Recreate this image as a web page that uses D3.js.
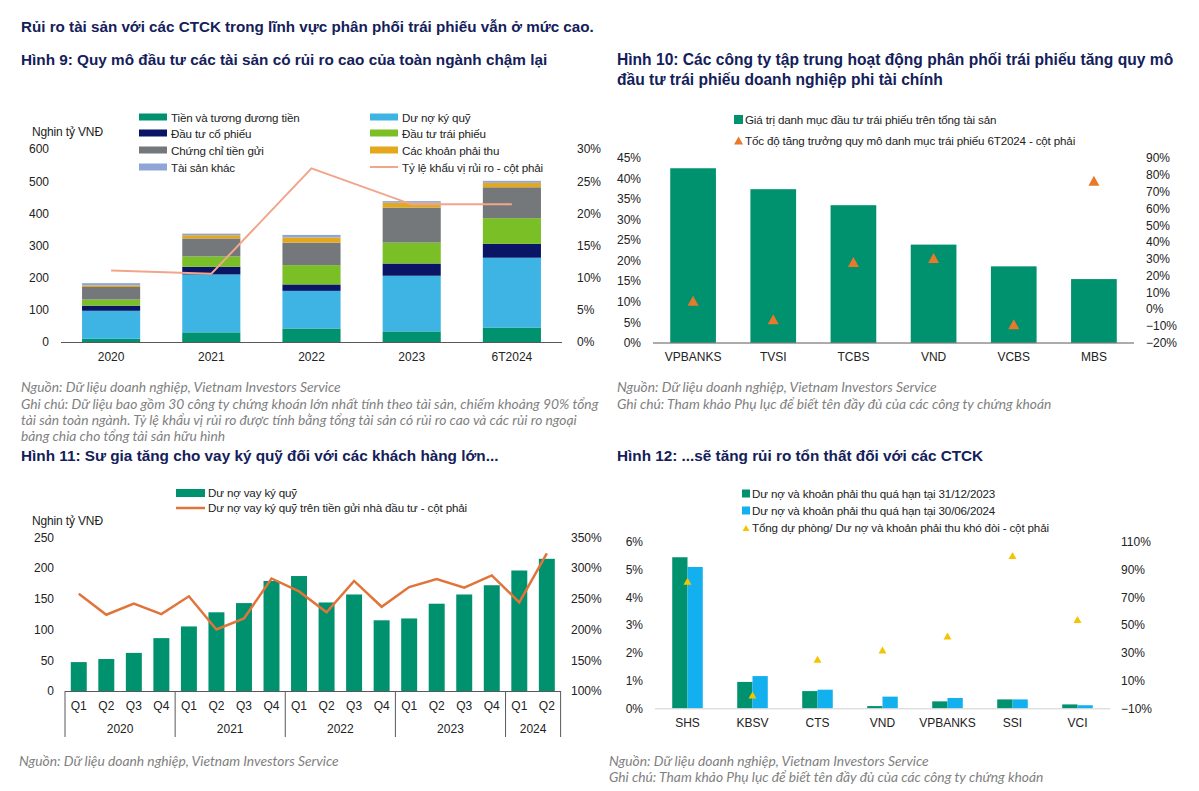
<!DOCTYPE html>
<html><head><meta charset="utf-8">
<script src="https://cdn.jsdelivr.net/npm/d3@7/dist/d3.min.js"></script>
<style>
body{margin:0;background:#fff;}
svg{display:block;}
.title{font-family:"Liberation Sans",Arial,sans-serif;font-weight:bold;fill:#14205A;}
.ax text{font-family:"Liberation Sans",Arial,sans-serif;font-size:12px;fill:#222;}
.lg{font-family:"Liberation Sans Narrow","Liberation Sans",Arial,sans-serif;font-size:11.6px;letter-spacing:-0.15px;fill:#222;}
.note{font-family:Lato,"Liberation Sans",sans-serif;font-style:italic;font-size:13.8px;fill:#7f7f7f;}
</style></head><body>
<script>
// ---------- DATA ----------
// Hình 9
const years9 = ["2020","2021","2022","2023","6T2024"];
const cash9 = [10,30,42,33,45];
const margin9 = [87,180,117,173,217];
const equity9 = [16,24,20,38,43];
const bonds9 = [19,32,60,65,80];
const cds9 = [39,56,70,109,96];
const recv9 = [5,10,16,15,14];
const other9 = [7,5,8,5,6];
const riskRatio9 = [0.111,0.106,0.270,0.214,0.214];
const series9Names = ["Tiền và tương đương tiền","Dư nợ ký quỹ","Đầu tư cổ phiếu","Đầu tư trái phiếu","Chứng chỉ tiền gửi","Các khoản phải thu","Tài sản khác"];
const line9Name = "Tỷ lệ khẩu vị rủi ro - cột phải";
const ticksL9 = [0,100,200,300,400,500,600];
const ticksR9 = [0,0.05,0.10,0.15,0.20,0.25,0.30];

// Hình 10
const firms10 = ["VPBANKS","TVSI","TCBS","VND","VCBS","MBS"];
const bondShare10 = [0.425,0.374,0.335,0.239,0.186,0.155];
const growth10 = [0.05,-0.06,0.28,0.305,-0.09,0.765];
const ticksL10 = [0,0.05,0.10,0.15,0.20,0.25,0.30,0.35,0.40,0.45];
const ticksR10 = [-0.2,-0.1,0,0.1,0.2,0.3,0.4,0.5,0.6,0.7,0.8,0.9];

// Hình 11
const quarters11 = ["Q1","Q2","Q3","Q4","Q1","Q2","Q3","Q4","Q1","Q2","Q3","Q4","Q1","Q2","Q3","Q4","Q1","Q2"];
const yearGroups11 = [["2020",4],["2021",4],["2022",4],["2023",4],["2024",2]];
const marginLoans11 = [47,52,62,86,105,128,143,179,187,144,157,115,118,142,157,172,196,215];
const loanToDeposit11 = [2.58,2.24,2.42,2.25,2.54,2.00,2.18,2.83,2.62,2.28,2.79,2.37,2.69,2.82,2.68,2.88,2.44,3.24];
const ticksL11 = [0,50,100,150,200,250];
const ticksR11 = [1.0,1.5,2.0,2.5,3.0,3.5];

// Hình 12
const firms12 = ["SHS","KBSV","CTS","VND","VPBANKS","SSI","VCI"];
const overdue2023 = [0.0544,0.0095,0.0062,0.0008,0.0025,0.0032,0.0014];
const overdue2024 = [0.0509,0.0116,0.0067,0.0042,0.0037,0.0032,0.0011];
const provision12 = [0.816,-0.004,0.253,0.32,0.42,1.00,0.54];
const ticksL12 = [0,0.01,0.02,0.03,0.04,0.05,0.06];
const ticksR12 = [-0.1,0.1,0.3,0.5,0.7,0.9,1.1];

// ---------- STYLE ----------
const C = {teal:"#00916E",lblue:"#3EB4E5",navy:"#0A1565",green:"#7BBF26",gray:"#75787B",gold:"#E3A81B",lav:"#8FA5D8",
  salmon:"#F2A58A",orange:"#E8782A",orange11:"#E0743A",blue12:"#12B0EE",yellow:"#F5C400"};
const colors9 = [C.teal,C.lblue,C.navy,C.green,C.gray,C.gold,C.lav];

const svg = d3.select("body").append("svg").attr("width",1199).attr("height",791);
const pct = d3.format(".0%");

function text(x,y,s,cls,extra){const t=svg.append("text").attr("x",x).attr("y",y).attr("class",cls).text(s);if(extra)extra(t);return t;}
function axisL(scale,ticks,x,fmt){svg.append("g").attr("class","ax").attr("transform",`translate(${x},0)`)
  .call(d3.axisLeft(scale).tickValues(ticks).tickSize(0).tickPadding(0).tickFormat(fmt)).call(g=>g.select(".domain").remove());}
function axisR(scale,ticks,x,fmt){svg.append("g").attr("class","ax").attr("transform",`translate(${x},0)`)
  .call(d3.axisRight(scale).tickValues(ticks).tickSize(0).tickPadding(0).tickFormat(fmt)).call(g=>g.select(".domain").remove());}
function axisB(scale,y,x0,x1,color){
  svg.append("line").attr("x1",x0).attr("x2",x1).attr("y1",y).attr("y2",y).attr("stroke",color).attr("stroke-width",1);
}
function tri(x,y,w,h,color){svg.append("path").attr("d",`M${x},${y-h/2}L${x+w/2},${y+h/2}L${x-w/2},${y+h/2}Z`).attr("fill",color);}

// ---------- TITLES ----------
const TS="15.3px";
text(21,32,"Rủi ro tài sản với các CTCK trong lĩnh vực phân phối trái phiếu vẫn ở mức cao.","title").style("font-size","15.2px");
text(21,65,"Hình 9: Quy mô đầu tư các tài sản có rủi ro cao của toàn ngành chậm lại","title").style("font-size",TS);
text(617,65,"Hình 10: Các công ty tập trung hoạt động phân phối trái phiếu tăng quy mô","title").style("font-size","15.6px");
text(617,85,"đầu tư trái phiếu doanh nghiệp phi tài chính","title").style("font-size","15.6px");
text(21,461,"Hình 11: Sư gia tăng cho vay ký quỹ đối với các khách hàng lớn...","title").style("font-size",TS);
text(617,461,"Hình 12: ...sẽ tăng rủi ro tổn thất đối với các CTCK","title").style("font-size",TS);

// ---------- HÌNH 9 ----------
{
  const x = d3.scaleBand().domain(years9).range([61,562]).paddingInner(0.42).paddingOuter(0.21);
  const y = d3.scaleLinear().domain([0,600]).range([342,149]);
  const yR = d3.scaleLinear().domain([0,0.30]).range([342,149]);
  const rows = years9.map((yr,i)=>({yr,v:[cash9[i],margin9[i],equity9[i],bonds9[i],cds9[i],recv9[i],other9[i]]}));
  const stack = d3.stack().keys(d3.range(7)).value((d,k)=>d.v[k])(rows);
  stack.forEach((s,k)=>{
    svg.append("g").selectAll("rect").data(s).join("rect")
      .attr("x",d=>x(d.data.yr)).attr("width",x.bandwidth())
      .attr("y",d=>y(d[1])).attr("height",d=>y(d[0])-y(d[1])).attr("fill",colors9[k]);
  });
  axisB(x,342.5,61,562,"#595959");
  svg.append("path").datum(riskRatio9).attr("fill","none").attr("stroke",C.salmon).attr("stroke-width",2)
    .attr("d",d3.line().x((d,i)=>x(years9[i])+x.bandwidth()/2).y(d=>yR(d)));
  axisL(y,ticksL9,49,d3.format("d"));
  axisR(yR,ticksR9,577,pct);
  svg.append("g").attr("class","ax").attr("transform","translate(0,352)")
    .call(d3.axisBottom(x).tickSize(0).tickPadding(0)).call(g=>g.select(".domain").remove())
    .selectAll("text").attr("dy","0.71em");
  text(32,136,"Nghin tỷ VNĐ","lg").style("font-size","12px");
  const lx=[139,370], ly=[117,133,150,167];
  const pos=[[0,0],[1,0],[0,1],[1,1],[0,2],[1,2],[0,3]];
  series9Names.forEach((n,k)=>{
    const [c,r]=pos[k];
    svg.append("rect").attr("x",lx[c]).attr("y",ly[r]-3.5).attr("width",28).attr("height",7).attr("fill",colors9[k]);
    text(lx[c]+32,ly[r]+4.5,n,"lg");
  });
  svg.append("line").attr("x1",370).attr("x2",398).attr("y1",167).attr("y2",167).attr("stroke",C.salmon).attr("stroke-width",2);
  text(402,171.5,line9Name,"lg");
  text(21,392,"Nguồn: Dữ liệu doanh nghiệp, Vietnam Investors Service","note");
  text(21,409,"Ghi chú: Dữ liệu bao gồm 30 công ty chứng khoán lớn nhất tính theo tài sản, chiếm khoảng 90% tổng","note");
  text(21,425,"tài sản toàn ngành. Tỷ lệ khẩu vị rủi ro được tính bằng tổng tài sản có rủi ro cao và các rủi ro ngoại","note");
  text(21,441,"bảng chia cho tổng tài sản hữu hình","note");
}

// ---------- HÌNH 10 ----------
{
  const x = d3.scaleBand().domain(firms10).range([653,1134]).paddingInner(0.43).paddingOuter(0.215);
  const y = d3.scaleLinear().domain([0,0.45]).range([342.7,158]);
  const yR = d3.scaleLinear().domain([-0.2,0.9]).range([342.7,158]);
  svg.append("g").selectAll("rect").data(bondShare10).join("rect")
    .attr("x",(d,i)=>x(firms10[i])).attr("width",x.bandwidth())
    .attr("y",d=>y(d)).attr("height",d=>y(0)-y(d)).attr("fill",C.teal);
  axisB(x,343,653,1134,"#595959");
  growth10.forEach((d,i)=>tri(x(firms10[i])+x.bandwidth()/2,yR(d),11,10,C.orange));
  axisL(y,ticksL10,641,pct);
  axisR(yR,ticksR10,1146,pct);
  svg.append("g").attr("class","ax").attr("transform","translate(0,352)")
    .call(d3.axisBottom(x).tickSize(0).tickPadding(0)).call(g=>g.select(".domain").remove())
    .selectAll("text").attr("dy","0.71em");
  svg.append("rect").attr("x",734).attr("y",115).attr("width",9).attr("height",9).attr("fill",C.teal);
  text(745,124,"Giá trị danh mục đầu tư trái phiếu trên tổng tài sản","lg");
  tri(738.5,140.5,9,8,C.orange);
  text(745,145,"Tốc độ tăng trưởng quy mô danh mục trái phiếu 6T2024 - cột phải","lg");
  text(617,392,"Nguồn: Dữ liệu doanh nghiệp, Vietnam Investors Service","note");
  text(617,409,"Ghi chú: Tham khảo Phụ lục để biết tên đầy đủ của các công ty chứng khoán","note");
}

// ---------- HÌNH 11 ----------
{
  const idx = d3.range(quarters11.length);
  const x = d3.scaleBand().domain(idx).range([65,560.6]).paddingInner(0.42).paddingOuter(0.21);
  const y = d3.scaleLinear().domain([0,250]).range([691,537.3]);
  const yR = d3.scaleLinear().domain([1,3.5]).range([691,537.3]);
  svg.append("g").selectAll("rect").data(marginLoans11).join("rect")
    .attr("x",(d,i)=>x(i)).attr("width",x.bandwidth())
    .attr("y",d=>y(d)).attr("height",d=>y(0)-y(d)).attr("fill",C.teal);
  svg.append("path").datum(loanToDeposit11).attr("fill","none").attr("stroke",C.orange11).attr("stroke-width",2.5)
    .attr("d",d3.line().x((d,i)=>x(i)+x.bandwidth()/2).y(d=>yR(d)));
  axisB(x,691.5,65,560.6,"#595959");
  axisL(y,ticksL11,54,d3.format("d"));
  axisR(yR,ticksR11,571,pct);
  svg.append("g").attr("class","ax").attr("transform","translate(0,701)")
    .call(d3.axisBottom(x).tickSize(0).tickPadding(0).tickFormat(i=>quarters11[i])).call(g=>g.select(".domain").remove())
    .selectAll("text").attr("dy","0.71em");
  let start=0;
  const sepX=[x.range()[0]];
  yearGroups11.forEach(([yr,n])=>{
    const x0 = start===0? x.range()[0] : x(start)-x.step()*x.paddingInner()/2;
    const end = start+n;
    const x1 = end>=quarters11.length? x.range()[1] : x(end)-x.step()*x.paddingInner()/2;
    sepX.push(x1);
    svg.append("text").attr("x",(x0+x1)/2).attr("y",733).attr("text-anchor","middle")
      .style("font-family","Liberation Sans,Arial,sans-serif").style("font-size","12px").attr("fill","#222").text(yr);
    start=end;
  });
  sepX.forEach(sx=>svg.append("line").attr("x1",sx).attr("x2",sx).attr("y1",691).attr("y2",737).attr("stroke","#595959"));
  svg.append("rect").attr("x",176).attr("y",489).attr("width",29).attr("height",8).attr("fill",C.teal);
  text(208,497,"Dư nợ vay ký quỹ","lg");
  svg.append("line").attr("x1",176).attr("x2",205).attr("y1",508).attr("y2",508).attr("stroke",C.orange11).attr("stroke-width",2.5);
  text(208,512,"Dư nợ vay ký quỹ trên tiền gửi nhà đầu tư - cột phải","lg");
  text(32,525,"Nghin tỷ VNĐ","lg").style("font-size","12px");
  text(19,766,"Nguồn: Dữ liệu doanh nghiệp, Vietnam Investors Service","note");
}

// ---------- HÌNH 12 ----------
{
  const x = d3.scaleBand().domain(firms12).range([655,1110]).paddingInner(0.53).paddingOuter(0.265);
  const xs = d3.scaleBand().domain([0,1]).range([0,x.bandwidth()]);
  const y = d3.scaleLinear().domain([0,0.06]).range([708.3,541.7]);
  const yR = d3.scaleLinear().domain([-0.1,1.1]).range([708.3,541.7]);
  [[overdue2023,C.teal],[overdue2024,C.blue12]].forEach(([arr,col],k)=>{
    svg.append("g").selectAll("rect").data(arr).join("rect")
      .attr("x",(d,i)=>x(firms12[i])+xs(k)).attr("width",xs.bandwidth())
      .attr("y",d=>y(d)).attr("height",d=>y(0)-y(d)).attr("fill",col);
  });
  axisB(x,708.8,655,1110,"#D0D0D0");
  provision12.forEach((d,i)=>tri(x(firms12[i])+x.bandwidth()/2,yR(d),8,7,C.yellow));
  axisL(y,ticksL12,643,pct);
  axisR(yR,ticksR12,1121,pct);
  svg.append("g").attr("class","ax").attr("transform","translate(0,718)")
    .call(d3.axisBottom(x).tickSize(0).tickPadding(0)).call(g=>g.select(".domain").remove())
    .selectAll("text").attr("dy","0.71em");
  svg.append("rect").attr("x",742).attr("y",489.5).attr("width",8).attr("height",8).attr("fill",C.teal);
  text(752,498,"Dư nợ và khoản phải thu quá hạn tại 31/12/2023","lg");
  svg.append("rect").attr("x",742).attr("y",506.5).attr("width",8).attr("height",8).attr("fill",C.blue12);
  text(752,515,"Dư nợ và khoản phải thu quá hạn tại 30/06/2024","lg");
  tri(746,528,7,6,C.yellow);
  text(752,532,"Tổng dự phòng/ Dư nợ và khoản phải thu khó đòi - cột phải","lg");
  text(609,766,"Nguồn: Dữ liệu doanh nghiệp, Vietnam Investors Service","note");
  text(609,782,"Ghi chú: Tham khảo Phụ lục để biết tên đầy đủ của các công ty chứng khoán","note");
}
</script>
</body></html>
